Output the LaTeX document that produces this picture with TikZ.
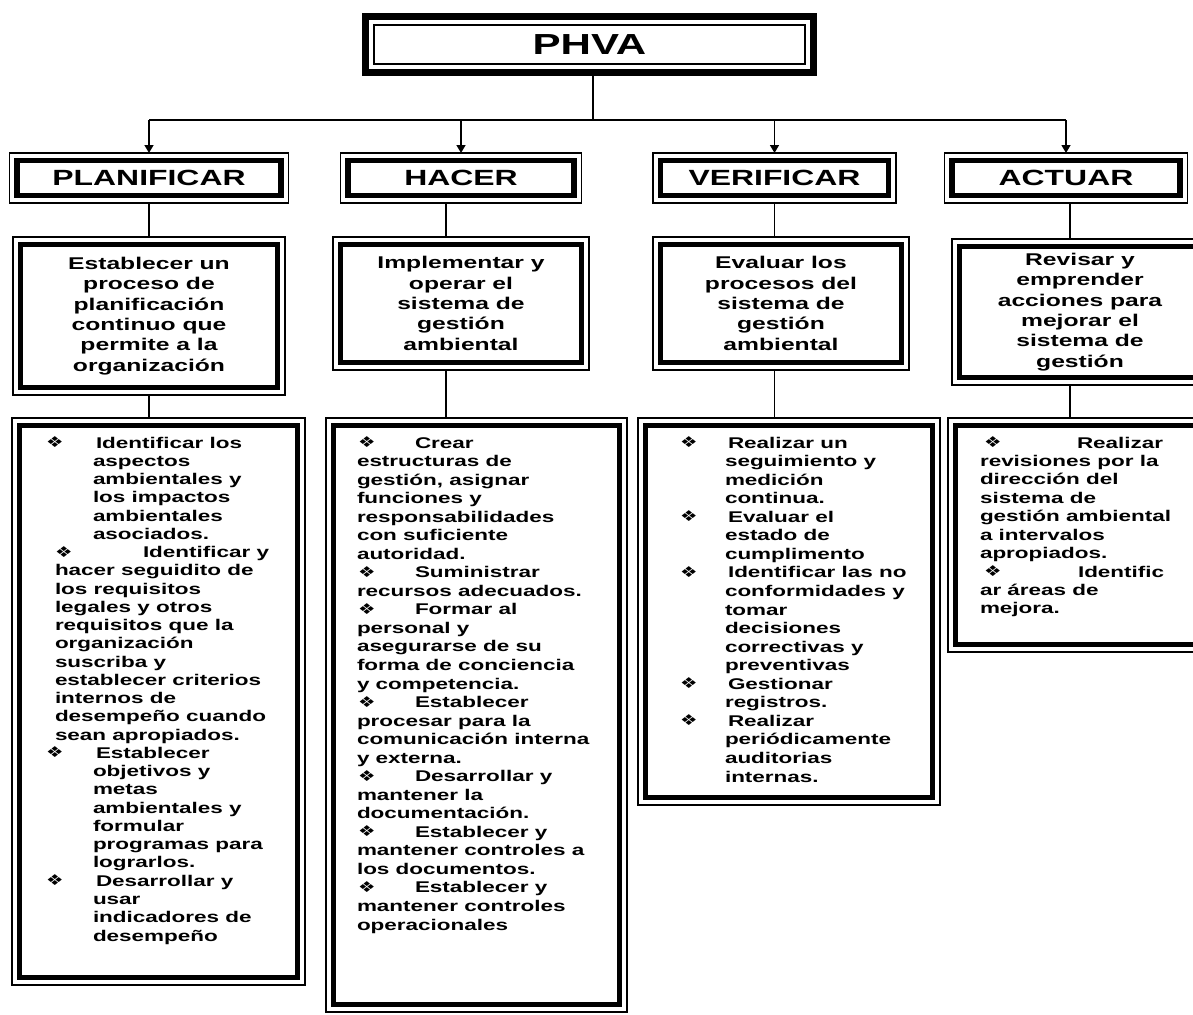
\documentclass[tikz,border=0pt]{standalone}
\usepackage{fontspec}
\setmainfont{Liberation Sans}[FakeStretch=1.45]
\newfontfamily\bulfont{DejaVu Sans}[FakeStretch=1.3]
\usetikzlibrary{arrows.meta}
\newcommand\bul{\raisebox{0.5pt}{\bulfont\fontsize{15}{15}\selectfont ❖}}
\newcommand\Ln[2]{\hbox{\kern#1pt #2}}
\newcommand\Bl[3]{\hbox{\rlap{\kern#1pt\bul}\kern#2pt #3}}
\newcommand\Lst[2]{\vtop{\baselineskip=#1pt\lineskiplimit=-20pt\lineskip=0pt #2}}
\tikzset{
  x=1pt, y=-1pt,
  boxn/.style={draw, line width=1.2pt, inner sep=0pt, outer sep=0pt, align=center},
  hdr/.style={boxn, font=\bfseries\fontsize{22}{26}\selectfont},
  mid/.style={boxn, font=\bfseries\fontsize{17}{20.4}\selectfont},
  listtxt/.style={inner sep=0pt, outer sep=0pt, font=\bfseries\fontsize{15.5}{18.4}\selectfont},
  conn/.style={line width=1.5pt},
  band/.style={line width=5.5pt},
}
\begin{document}
\begin{tikzpicture}
\useasboundingbox (0,0) rectangle (1193,1014);
\clip (0,0) rectangle (1193,1014);
% top
\node[draw=none, inner sep=0pt, outer sep=0pt, minimum width=455pt, minimum height=63pt,
      font=\bfseries\fontsize{29}{32}\selectfont] (phva) at (589.5,44.5) {PHVA};
\draw[line width=7pt] ([xshift=3.5pt,yshift=-3.5pt]phva.north west) rectangle ([xshift=-3.5pt,yshift=3.5pt]phva.south east);
\draw[line width=1.2pt] ([xshift=12pt,yshift=-12pt]phva.north west) rectangle ([xshift=-12pt,yshift=12pt]phva.south east);
% headers
\node[hdr, minimum width=279pt, minimum height=50pt] (plan) at (149,178) {PLANIFICAR};
\node[hdr, minimum width=241pt, minimum height=50pt] (hac) at (461,178) {HACER};
\node[hdr, minimum width=243pt, minimum height=50pt] (ver) at (774.5,178) {VERIFICAR};
\node[hdr, minimum width=243pt, minimum height=50pt] (act) at (1066,178) {ACTUAR};
% middle boxes
\node[mid, minimum width=272pt, minimum height=158pt] (b1) at (149,316)
  {Establecer un\\proceso de\\planificación\\continuo que\\permite a la\\organización};
\node[mid, minimum width=256pt, minimum height=133pt] (b2) at (461,303.5)
  {Implementar y\\operar el\\sistema de\\gestión\\ambiental};
\node[mid, minimum width=256pt, minimum height=133pt] (b3) at (781,303.5)
  {Evaluar los\\procesos del\\sistema de\\gestión\\ambiental};
\node[mid, minimum width=256pt, minimum height=146pt] (b4) at (1080,312)
  {Revisar y\\emprender\\acciones para\\mejorar el\\sistema de\\gestión};
% list boxes
\node[boxn, minimum width=293pt, minimum height=567pt] (l1) at (158.5,701.5) {};
\node[boxn, minimum width=301pt, minimum height=594pt] (l2) at (476.5,715) {};
\node[boxn, minimum width=302pt, minimum height=387pt] (l3) at (789,611.5) {};
\node[boxn, minimum width=262pt, minimum height=234pt] (l4) at (1079,535) {};
% inner thick bands
\foreach \n in {plan,hac,ver,act,b1,b2,b3,b4,l1,l2,l3,l4}
  \draw[band] ([xshift=7.5pt,yshift=-7.5pt]\n.north west) rectangle ([xshift=-7.5pt,yshift=7.5pt]\n.south east);
% list texts
\node[listtxt, anchor=base west] (t1) at (46,448) {\Lst{18.26}{%
\Bl{0}{50}{Identificar los}
\Ln{47}{aspectos}
\Ln{47}{ambientales y}
\Ln{47}{los impactos}
\Ln{47}{ambientales}
\Ln{47}{asociados.}
\Bl{9}{97}{Identificar y}
\Ln{9}{hacer seguidito de}
\Ln{9}{los requisitos}
\Ln{9}{legales y otros}
\Ln{9}{requisitos que la}
\Ln{9}{organización}
\Ln{9}{suscriba y}
\Ln{9}{establecer criterios}
\Ln{9}{internos de}
\Ln{9}{desempeño cuando}
\Ln{9}{sean apropiados.}
\Bl{0}{50}{Establecer}
\Ln{47}{objetivos y}
\Ln{47}{metas}
\Ln{47}{ambientales y}
\Ln{47}{formular}
\Ln{47}{programas para}
\Ln{47}{lograrlos.}
\Bl{0}{50}{Desarrollar y}
\Ln{47}{usar}
\Ln{47}{indicadores de}
\Ln{47}{desempeño}}};
\node[listtxt, anchor=base west] (t2) at (357,448) {\Lst{18.54}{%
\Bl{1}{58}{Crear}
\Ln{0}{estructuras de}
\Ln{0}{gestión, asignar}
\Ln{0}{funciones y}
\Ln{0}{responsabilidades}
\Ln{0}{con suficiente}
\Ln{0}{autoridad.}
\Bl{1}{58}{Suministrar}
\Ln{0}{recursos adecuados.}
\Bl{1}{58}{Formar al}
\Ln{0}{personal y}
\Ln{0}{asegurarse de su}
\Ln{0}{forma de conciencia}
\Ln{0}{y competencia.}
\Bl{1}{58}{Establecer}
\Ln{0}{procesar para la}
\Ln{0}{comunicación interna}
\Ln{0}{y externa.}
\Bl{1}{58}{Desarrollar y}
\Ln{0}{mantener la}
\Ln{0}{documentación.}
\Bl{1}{58}{Establecer y}
\Ln{0}{mantener controles a}
\Ln{0}{los documentos.}
\Bl{1}{58}{Establecer y}
\Ln{0}{mantener controles}
\Ln{0}{operacionales}}};
\node[listtxt, anchor=base west] (t3) at (680,448) {\Lst{18.56}{%
\Bl{0}{48}{Realizar un}
\Ln{45}{seguimiento y}
\Ln{45}{medición}
\Ln{45}{continua.}
\Bl{0}{48}{Evaluar el}
\Ln{45}{estado de}
\Ln{45}{cumplimento}
\Bl{0}{48}{Identificar las no}
\Ln{45}{conformidades y}
\Ln{45}{tomar}
\Ln{45}{decisiones}
\Ln{45}{correctivas y}
\Ln{45}{preventivas}
\Bl{0}{48}{Gestionar}
\Ln{45}{registros.}
\Bl{0}{48}{Realizar}
\Ln{45}{periódicamente}
\Ln{45}{auditorias}
\Ln{45}{internas.}}};
\node[listtxt, anchor=base west] (t4) at (980,448) {\Lst{18.44}{%
\Bl{4}{97}{Realizar}
\Ln{0}{revisiones por la}
\Ln{0}{dirección del}
\Ln{0}{sistema de}
\Ln{0}{gestión ambiental}
\Ln{0}{a intervalos}
\Ln{0}{apropiados.}
\Bl{4}{98}{Identific}
\Ln{0}{ar áreas de}
\Ln{0}{mejora.}}};
% connectors
\coordinate (bus) at (0,120);
\coordinate (px) at (593,0);
\coordinate (hx) at (446,0);
\coordinate (ax) at (1070,0);
\draw[conn] (phva.south -| px) -- (bus -| px);
\draw[conn] (plan.north |- bus) -- (act.north |- bus);
\foreach \n in {plan,hac,ver,act}
  \draw[conn,-{Triangle[width=9pt,length=8pt]}] (\n.north |- bus) -- (\n.north);
\draw[conn] (plan.south) -- (b1.north -| plan.south);
\draw[conn] (b1.south -| plan.south) -- (l1.north -| plan.south);
\draw[conn] (hac.south -| hx) -- (b2.north -| hx);
\draw[conn] (b2.south -| hx) -- (l2.north -| hx);
\draw[conn] (ver.south) -- (b3.north -| ver.south);
\draw[conn] (b3.south -| ver.south) -- (l3.north -| ver.south);
\draw[conn] (act.south -| ax) -- (b4.north -| ax);
\draw[conn] (b4.south -| ax) -- (l4.north -| ax);
\end{tikzpicture}
\end{document}
